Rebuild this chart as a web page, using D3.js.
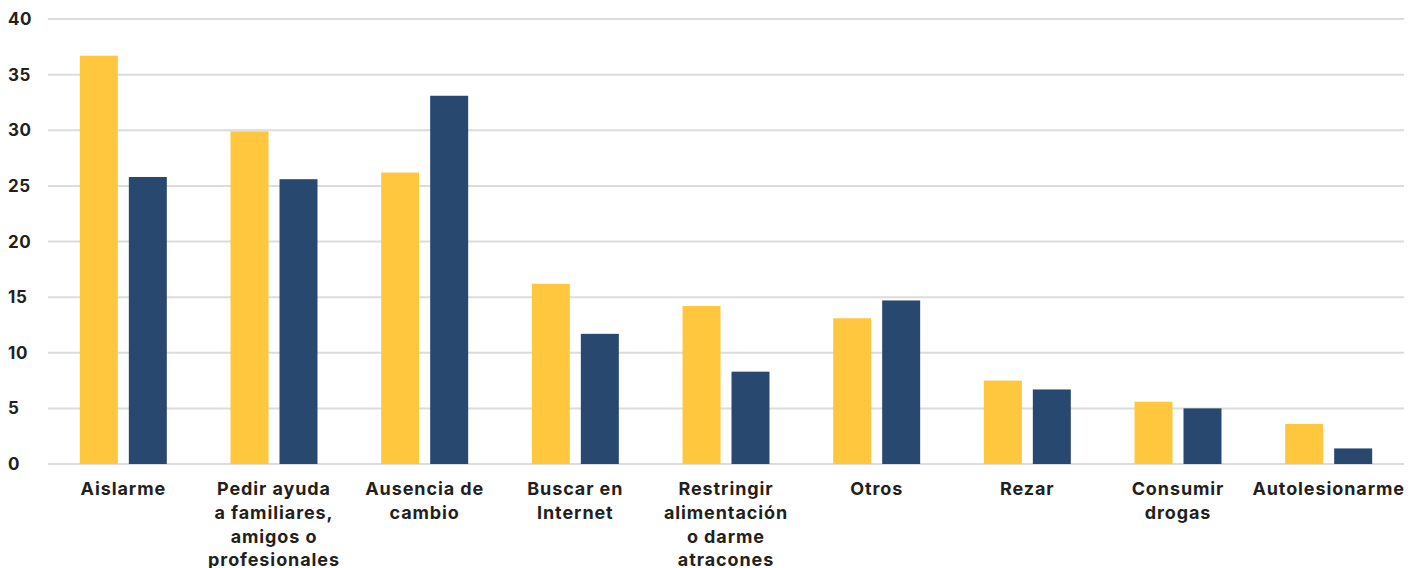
<!DOCTYPE html>
<html>
<head>
<meta charset="utf-8">
<script src="https://cdn.jsdelivr.net/npm/d3@7"></script>
<style>
  body { margin: 0; background: #fff; }
  text { font-family: 'Inter', sans-serif; font-weight: 700; fill: #231f20; }
</style>
</head>
<body>
<div id="graph"></div>
<script>
// Chart data
var categories = ['Aislarme', 'Pedir ayuda', 'Ausencia de cambio', 'Buscar en Internet',
    'Restringir', 'Otros', 'Rezar', 'Consumir drogas', 'Autolesionarme'];
var labelLines = [
    ['Aislarme'],
    ['Pedir ayuda', 'a familiares,', 'amigos o', 'profesionales'],
    ['Ausencia de', 'cambio'],
    ['Buscar en', 'Internet'],
    ['Restringir', 'alimentación', 'o darme', 'atracones'],
    ['Otros'],
    ['Rezar'],
    ['Consumir', 'drogas'],
    ['Autolesionarme']
];
var seriesA = [36.7, 29.9, 26.2, 16.2, 14.2, 13.1, 7.5, 5.6, 3.6];
var seriesB = [25.8, 25.6, 33.1, 11.7, 8.3, 14.7, 6.7, 5.0, 1.4];
var yTicks = [0, 5, 10, 15, 20, 25, 30, 35, 40];
var colors = ['#ffc73d', '#29486f'];

// Graph dimensions
var width = 1424, height = 568;
var margin = {top: 19, right: 20, bottom: 104, left: 48};

var x = d3.scaleBand().domain(categories).range([margin.left, width - margin.right])
    .paddingInner(0).paddingOuter(0);
var x1 = d3.scaleBand().domain([0, 1]).range([0, x.bandwidth()])
    .paddingInner(0.2245).paddingOuter(0.65);
var y = d3.scaleLinear().domain([0, 40]).range([height - margin.bottom, margin.top]);

var svg = d3.select('#graph').append('svg')
    .attr('width', width)
    .attr('height', height);

// Gridlines
svg.append('g')
    .selectAll('line')
    .data(yTicks)
    .enter()
    .append('line')
        .attr('x1', margin.left)
        .attr('x2', width - margin.right)
        .attr('y1', function(d) { return y(d); })
        .attr('y2', function(d) { return y(d); })
        .attr('stroke', '#dcdcdc')
        .attr('stroke-width', 2);

// Y labels
svg.append('g')
    .selectAll('text')
    .data(yTicks)
    .enter()
    .append('text')
        .attr('x', 8)
        .attr('y', function(d) { return y(d); })
        .attr('dy', '0.36em')
        .attr('font-size', 17)
        .attr('letter-spacing', 0.6)
        .text(function(d) { return d; });

// Bars
var rows = categories.map(function(c, i) { return {cat: c, vals: [seriesA[i], seriesB[i]]}; });
var group = svg.append('g')
    .selectAll('g')
    .data(rows)
    .enter()
    .append('g')
        .attr('transform', function(d) { return 'translate(' + x(d.cat) + ',0)'; });

group.selectAll('rect')
    .data(function(d) { return d.vals; })
    .enter()
    .append('rect')
        .attr('x', function(d, i) { return x1(i); })
        .attr('width', x1.bandwidth())
        .attr('y', function(d) { return y(d); })
        .attr('height', function(d) { return y(0) - y(d); })
        .attr('fill', function(d, i) { return colors[i]; });

// X labels
var labels = svg.append('g')
    .selectAll('text')
    .data(categories)
    .enter()
    .append('text')
        .attr('text-anchor', 'middle')
        .attr('font-size', 18)
        .attr('letter-spacing', 0.9)
        .attr('x', function(d) { return x(d) + x.bandwidth() / 2; })
        .attr('y', 495);

labels.selectAll('tspan')
    .data(function(d, i) { return labelLines[i]; })
    .enter()
    .append('tspan')
        .attr('x', function() { return this.parentNode.getAttribute('x'); })
        .attr('dy', function(d, i) { return i === 0 ? 0 : 23.8; })
        .text(function(d) { return d; });
</script>
</body>
</html>
